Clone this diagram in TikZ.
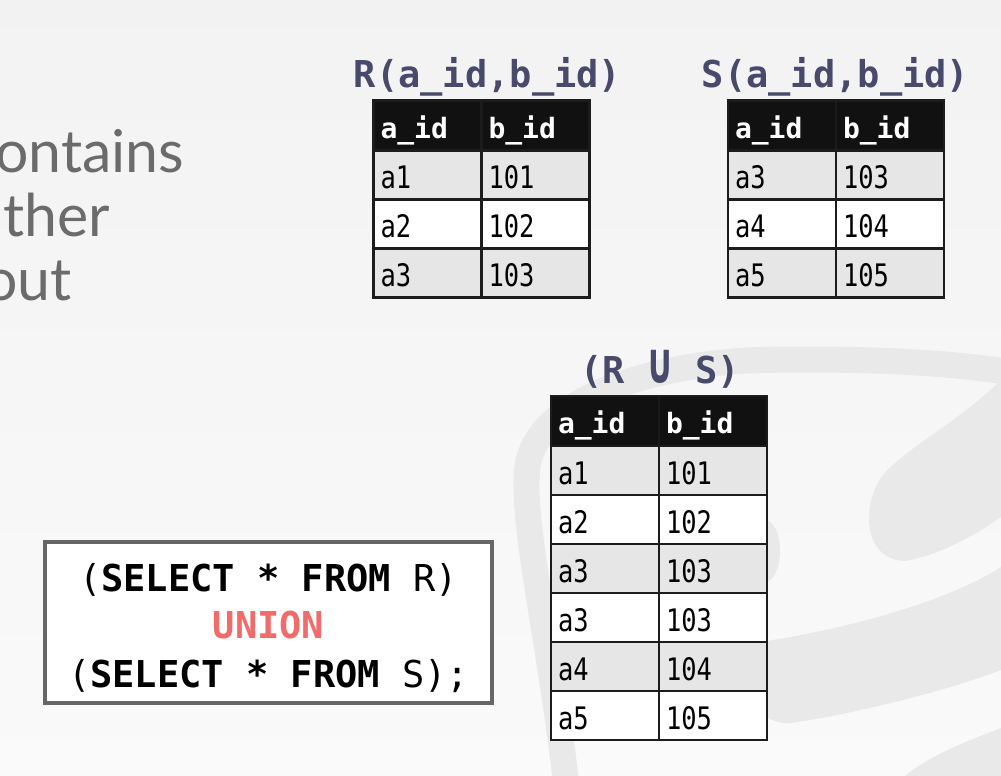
\documentclass[tikz,border=0pt]{standalone}
\usepackage{fontspec}
\usetikzlibrary{positioning}
\setmainfont{Lato}
\newfontfamily\codefont{DejaVu Sans Mono}
\newfontfamily\cellfont{DejaVu Sans Mono}[FakeStretch=0.82]

\definecolor{titleblue}{HTML}{474A6B}
\definecolor{hdrblack}{HTML}{111111}
\definecolor{rowgray}{HTML}{E6E6E6}
\definecolor{gridline}{HTML}{1C1C1C}
\definecolor{boxgray}{HTML}{666666}
\definecolor{unionred}{HTML}{F26B6B}
\definecolor{bodygray}{HTML}{6B6B6B}
\definecolor{logogray}{HTML}{E9E9E9}

\begin{document}
\begin{tikzpicture}[x=1pt, y=-1pt,
        cellbox/.style={rectangle, draw=gridline, line width=2.5pt, outer sep=0pt, inner xsep=7pt, inner ysep=0pt, text width=94pt, align=left, minimum height=49pt, text height=27pt, text depth=0pt, text=black, font=\cellfont\fontsize{31}{34}\selectfont},
        hdrcell/.style={cellbox, fill=hdrblack, text=white, minimum height=50pt, text height=25pt, font=\codefont\bfseries\fontsize{28}{30}\selectfont},
        graycell/.style={cellbox, fill=rowgray},
        whitecell/.style={cellbox, fill=white},
        tabletitle/.style={anchor=base, inner sep=0pt, text=titleblue, font=\codefont\bfseries\fontsize{37}{40}\selectfont},
        bodytext/.style={anchor=base west, inner sep=0pt, text=bodygray, font=\fontsize{59}{64}\selectfont},
        sqlbox/.style={rectangle, draw=boxgray, line width=4pt, fill=white, minimum width=447pt, minimum height=161pt},
        sqlline/.style={anchor=base, inner sep=0pt, font=\codefont\fontsize{37}{44}\selectfont}]

        % page and background
        \useasboundingbox (0,0) rectangle (1001,776);
        \clip (0,0) rectangle (1001,776);
        \shade[top color=black!5, bottom color=black!2] (0,0) rectangle (1001,776);

        % faint logo in the background
        \draw[logogray, line width=26pt] (568,800) .. controls (552,650) and (522,530) .. (527,470) .. controls (535,390) and (680,362) .. (760,360) .. controls (860,358) and (950,362) .. (1015,373);
        \fill[logogray] (1001,380) .. controls (960,420) and (920,440) .. (893,465) .. controls (860,490) and (858,560) .. (905,561) .. controls (940,555) and (975,535) .. (1001,517) -- cycle;
        \fill[logogray] (740,645) .. controls (850,630) and (950,600) .. (1001,567) -- (1001,670) .. controls (950,690) and (850,715) .. (790,723) .. controls (770,726) and (740,700) .. (740,690) -- cycle;
        \fill[logogray] (765,551) ellipse (15 and 31);
        \fill[logogray] (905,776) .. controls (930,755) and (970,740) .. (1001,728) -- (1001,776) -- cycle;

        % slide text cut at the left edge
        \node[bodytext] (w1) at (-5,172) {ontains};
        \node[bodytext] (w2) at (3,236) {ther};
        \node[bodytext] (w3) at (-16,300) {out};

        % table R
        \node[hdrcell] (rh1) at (427.5,125.5) {a\_id};
        \node[hdrcell, right=0pt of rh1] (rh2) {b\_id};
        \node[graycell, below=0pt of rh1] (r11) {a1};
        \node[graycell, right=0pt of r11] (r12) {101};
        \node[whitecell, below=0pt of r11] (r21) {a2};
        \node[whitecell, right=0pt of r21] (r22) {102};
        \node[graycell, below=0pt of r21] (r31) {a3};
        \node[graycell, right=0pt of r31] (r32) {103};
        \node[tabletitle] (rtitle) at (487.5,87) {R(a\_id,b\_id)};

        % table S
        \node[hdrcell] (sh1) at (782,125.5) {a\_id};
        \node[hdrcell, right=0pt of sh1] (sh2) {b\_id};
        \node[graycell, below=0pt of sh1] (s11) {a3};
        \node[graycell, right=0pt of s11] (s12) {103};
        \node[whitecell, below=0pt of s11] (s21) {a4};
        \node[whitecell, right=0pt of s21] (s22) {104};
        \node[graycell, below=0pt of s21] (s31) {a5};
        \node[graycell, right=0pt of s31] (s32) {105};
        \node[tabletitle] (stitle) at (835.5,87) {S(a\_id,b\_id)};

        % table R union S
        \node[hdrcell] (uh1) at (605,421) {a\_id};
        \node[hdrcell, right=0pt of uh1] (uh2) {b\_id};
        \node[graycell, below=0pt of uh1] (u11) {a1};
        \node[graycell, right=0pt of u11] (u12) {101};
        \node[whitecell, below=0pt of u11] (u21) {a2};
        \node[whitecell, right=0pt of u21] (u22) {102};
        \node[graycell, below=0pt of u21] (u31) {a3};
        \node[graycell, right=0pt of u31] (u32) {103};
        \node[whitecell, below=0pt of u31] (u41) {a3};
        \node[whitecell, right=0pt of u41] (u42) {103};
        \node[graycell, below=0pt of u41] (u51) {a4};
        \node[graycell, right=0pt of u51] (u52) {104};
        \node[whitecell, below=0pt of u51] (u61) {a5};
        \node[whitecell, right=0pt of u61] (u62) {105};
        \node[tabletitle] (utitle) at (660,383) {(R \scalebox{1.15}[1.55]{∪} S)};

        % query
        \node[sqlbox] (query) at (268.5,622.5) {};
        \node[sqlline] (q1) at (268.5,591) {(\textbf{SELECT * FROM} R)};
        \node[sqlline, text=unionred] (q2) at (268.5,638) {\textbf{UNION}};
        \node[sqlline] (q3) at (268.5,687) {(\textbf{SELECT * FROM} S);};

\end{tikzpicture}
\end{document}
